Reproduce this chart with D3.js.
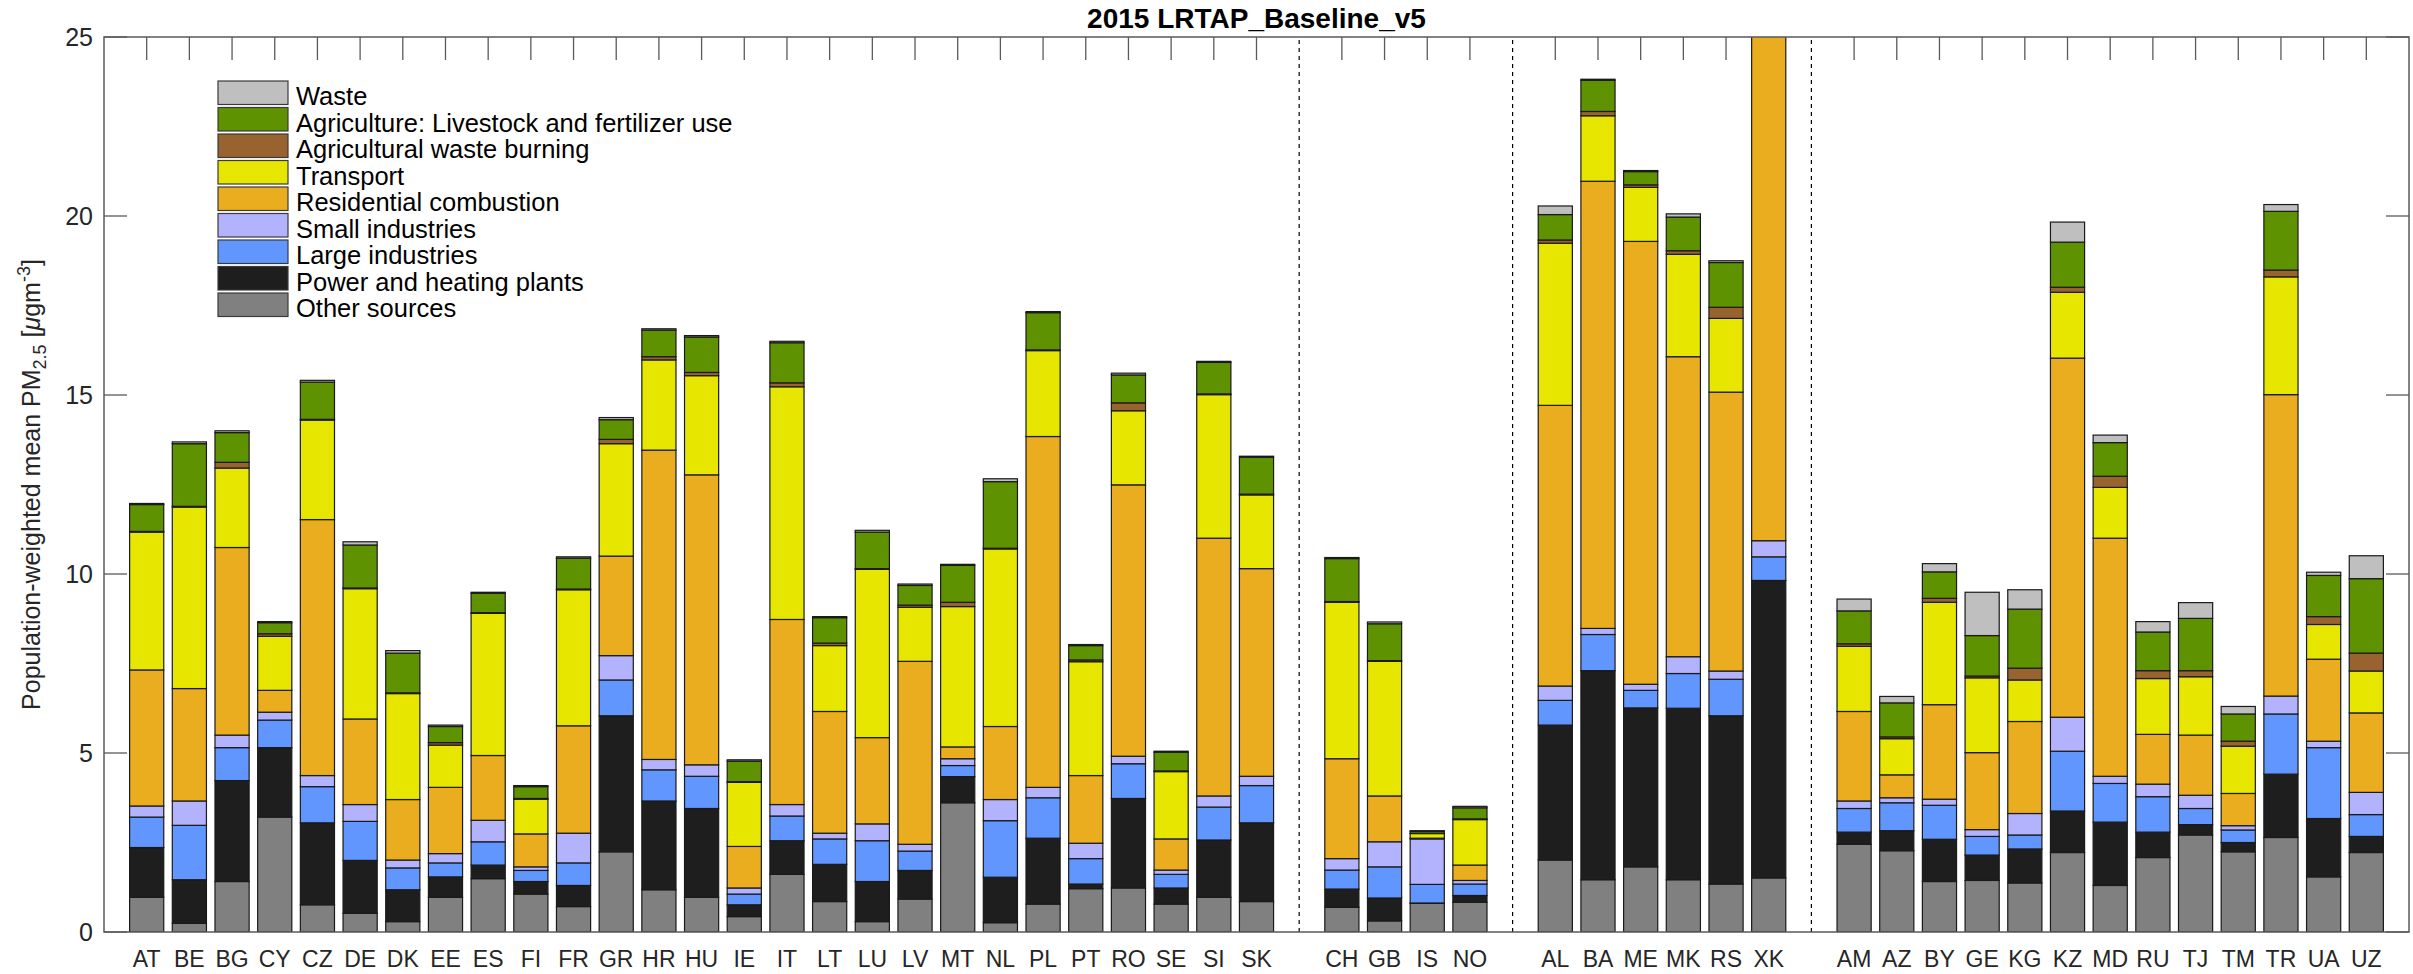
<!DOCTYPE html>
<html>
<head>
<meta charset="utf-8">
<script src="https://cdn.jsdelivr.net/npm/d3@7"></script>
<style>
    body { margin: 0; background: #ffffff; }
    svg { display: block; font-family: "Liberation Sans", Arial, Helvetica, sans-serif; }
</style>
</head>
<body>
<div id="chart"></div>
<script>
// Country groups, separated by dashed lines in the figure
const groupEU = ["AT", "BE", "BG", "CY", "CZ", "DE", "DK", "EE", "ES", "FI", "FR", "GR", "HR", "HU",
    "IE", "IT", "LT", "LU", "LV", "MT", "NL", "PL", "PT", "RO", "SE", "SI", "SK"];
const groupEFTA = ["CH", "GB", "IS", "NO"];
const groupBalkans = ["AL", "BA", "ME", "MK", "RS", "XK"];
const groupEast = ["AM", "AZ", "BY", "GE", "KG", "KZ", "MD", "RU", "TJ", "TM", "TR", "UA", "UZ"];
const groups = [groupEU, groupEFTA, groupBalkans, groupEast];

// Source contributions [ugm-3], one value per country in group order
const otherSources = [0.97, 0.24, 1.41, 3.21, 0.76, 0.52, 0.29, 0.97, 1.49, 1.06, 0.71, 2.24, 1.18, 0.97,
    0.43, 1.61, 0.85, 0.29, 0.92, 3.61, 0.26, 0.78, 1.21, 1.23, 0.78, 0.97, 0.85,
    0.69, 0.31, 0.80, 0.83,
    2.01, 1.46, 1.82, 1.46, 1.34, 1.51,
    2.45, 2.27, 1.41, 1.44, 1.37, 2.22, 1.30, 2.08, 2.71, 2.24, 2.64, 1.54, 2.22];
const powerPlants = [1.39, 1.22, 2.82, 1.94, 2.29, 1.48, 0.89, 0.57, 0.38, 0.35, 0.59, 3.80, 2.48, 2.48,
    0.33, 0.94, 1.04, 1.12, 0.80, 0.73, 1.27, 1.84, 0.13, 2.50, 0.45, 1.60, 2.20,
    0.51, 0.64, 0.01, 0.19,
    3.77, 5.84, 4.44, 4.79, 4.70, 8.31,
    0.34, 0.56, 1.18, 0.71, 0.95, 1.16, 1.77, 0.71, 0.29, 0.26, 1.77, 1.63, 0.45];
const largeIndustries = [0.85, 1.52, 0.92, 0.77, 1.01, 1.09, 0.61, 0.39, 0.65, 0.31, 0.63, 1.00, 0.87, 0.90,
    0.30, 0.69, 0.71, 1.14, 0.54, 0.31, 1.58, 1.13, 0.71, 0.97, 0.38, 0.92, 1.04,
    0.53, 0.87, 0.52, 0.32,
    0.69, 1.01, 0.49, 0.97, 1.02, 0.66,
    0.66, 0.78, 0.95, 0.52, 0.39, 1.67, 1.08, 0.99, 0.45, 0.35, 1.68, 1.98, 0.61];
const smallIndustries = [0.31, 0.68, 0.35, 0.22, 0.31, 0.47, 0.22, 0.26, 0.60, 0.10, 0.83, 0.68, 0.29, 0.32,
    0.17, 0.32, 0.16, 0.47, 0.19, 0.19, 0.59, 0.29, 0.43, 0.21, 0.12, 0.31, 0.26,
    0.32, 0.70, 1.27, 0.10,
    0.40, 0.17, 0.17, 0.47, 0.23, 0.45,
    0.21, 0.14, 0.17, 0.19, 0.60, 0.95, 0.20, 0.35, 0.37, 0.12, 0.50, 0.18, 0.62];
// XK residential runs past the axis limit of 25
const residential = [3.80, 3.14, 5.24, 0.61, 7.15, 2.39, 1.69, 1.85, 1.81, 0.92, 3.00, 2.78, 8.64, 8.10,
    1.16, 5.17, 3.40, 2.41, 5.11, 0.33, 2.04, 9.80, 1.89, 7.58, 0.87, 7.20, 5.80,
    2.79, 1.28, 0.02, 0.43,
    7.84, 12.49, 12.37, 8.38, 7.79, 15.50,
    2.50, 0.64, 2.64, 2.15, 2.57, 10.03, 6.65, 1.39, 1.68, 0.90, 8.42, 2.29, 2.22];
const transport = [3.85, 5.07, 2.22, 1.51, 2.78, 3.64, 2.96, 1.18, 3.97, 0.97, 3.80, 3.14, 2.52, 2.77,
    1.79, 6.50, 1.84, 4.70, 1.51, 3.92, 4.96, 2.40, 3.18, 2.07, 1.88, 4.01, 2.06,
    4.37, 3.76, 0.13, 1.27,
    4.53, 1.83, 1.51, 2.86, 2.06, 0,
    1.82, 1.01, 2.86, 2.09, 1.16, 1.84, 1.42, 1.56, 1.63, 1.32, 3.29, 0.97, 1.17];
const agWasteBurning = [0.02, 0.02, 0.16, 0.07, 0.02, 0.02, 0.02, 0.07, 0.02, 0.02, 0.02, 0.12, 0.09, 0.09,
    0.02, 0.11, 0.07, 0.02, 0.06, 0.12, 0.02, 0.02, 0.05, 0.22, 0.02, 0.02, 0.02,
    0.02, 0.02, 0.01, 0.02,
    0.09, 0.12, 0.07, 0.10, 0.31, 0,
    0.07, 0.05, 0.11, 0.05, 0.33, 0.14, 0.31, 0.22, 0.17, 0.14, 0.19, 0.22, 0.50];
const agriculture = [0.75, 1.75, 0.83, 0.31, 1.04, 1.20, 1.11, 0.45, 0.54, 0.33, 0.86, 0.55, 0.74, 0.99,
    0.57, 1.12, 0.71, 1.02, 0.55, 1.03, 1.86, 1.04, 0.40, 0.78, 0.52, 0.88, 1.03,
    1.20, 1.03, 0.05, 0.31,
    0.71, 0.87, 0.37, 0.94, 1.25, 0,
    0.92, 0.95, 0.74, 1.13, 1.65, 1.26, 0.94, 1.08, 1.46, 0.76, 1.64, 1.15, 2.08];
const waste = [0.03, 0.05, 0.05, 0.03, 0.05, 0.09, 0.07, 0.04, 0.03, 0.03, 0.04, 0.06, 0.04, 0.04,
    0.04, 0.04, 0.03, 0.05, 0.04, 0.03, 0.08, 0.03, 0.03, 0.05, 0.03, 0.03, 0.03,
    0.03, 0.05, 0.02, 0.04,
    0.24, 0.03, 0.03, 0.09, 0.05, 0,
    0.33, 0.18, 0.23, 1.21, 0.54, 0.56, 0.21, 0.29, 0.44, 0.21, 0.19, 0.09, 0.64];

// Stacking order bottom -> top
const sources = [
    { key: "other", label: "Other sources", color: "#808080", values: otherSources },
    { key: "power", label: "Power and heating plants", color: "#1e1e1e", values: powerPlants },
    { key: "large", label: "Large industries", color: "#6096fd", values: largeIndustries },
    { key: "small", label: "Small industries", color: "#b3b3fd", values: smallIndustries },
    { key: "res", label: "Residential combustion", color: "#e9ad1f", values: residential },
    { key: "trans", label: "Transport", color: "#e6e600", values: transport },
    { key: "agw", label: "Agricultural waste burning", color: "#996330", values: agWasteBurning },
    { key: "agr", label: "Agriculture: Livestock and fertilizer use", color: "#5f9200", values: agriculture },
    { key: "waste", label: "Waste", color: "#bfbfbf", values: waste },
];

const yTicks = [0, 5, 10, 15, 20, 25];

const width = 2413, height = 974;
const margin = { left: 104, right: 4, top: 37, bottom: 42 };

// Place countries on integer positions with an empty slot between groups
let countries = [];
let separators = [];
let pos = 1;
groups.forEach((g, gi) => {
    g.forEach(c => { countries.push({ name: c, pos: pos }); pos++; });
    if (gi < groups.length - 1) { separators.push(pos); pos++; }
});
const xMax = pos;

const table = countries.map((c, i) => {
    let row = { name: c.name, pos: c.pos };
    sources.forEach(s => row[s.key] = s.values[i]);
    return row;
});

const x = d3.scaleLinear().domain([0, xMax]).range([margin.left, width - margin.right]);
const y = d3.scaleLinear().domain([0, 25]).range([height - margin.bottom, margin.top]);
const barW = x(0.8) - x(0);
const tickLen = 23;
const axisColor = "#5a5a5a";
const textColor = "#262626";

const svg = d3.select("#chart").append("svg")
    .attr("width", width)
    .attr("height", height);

svg.append("defs").append("clipPath").attr("id", "plot-clip")
    .append("rect")
    .attr("x", x(0)).attr("y", y(25))
    .attr("width", x(xMax) - x(0)).attr("height", y(0) - y(25));

// Ticks (drawn under the bars)
const ticks = svg.append("g").attr("stroke", axisColor).attr("stroke-width", 1.3);
countries.forEach(c => {
    ticks.append("line")
        .attr("x1", x(c.pos)).attr("x2", x(c.pos))
        .attr("y1", y(25)).attr("y2", y(25) + tickLen);
    ticks.append("line")
        .attr("x1", x(c.pos)).attr("x2", x(c.pos))
        .attr("y1", y(0)).attr("y2", y(0) - tickLen);
});
yTicks.forEach(t => {
    ticks.append("line")
        .attr("x1", x(0)).attr("x2", x(0) + tickLen)
        .attr("y1", y(t)).attr("y2", y(t));
    ticks.append("line")
        .attr("x1", x(xMax)).attr("x2", x(xMax) - tickLen)
        .attr("y1", y(t)).attr("y2", y(t));
});

// Group separators
svg.append("g").selectAll("line")
    .data(separators)
    .join("line")
        .attr("x1", d => x(d)).attr("x2", d => x(d))
        .attr("y1", y(0)).attr("y2", y(25))
        .attr("stroke", "#000")
        .attr("stroke-width", 1.2)
        .attr("stroke-dasharray", "4,4");

// Stacked bars
const stacked = d3.stack().keys(sources.map(s => s.key))(table);

svg.append("g")
    .attr("clip-path", "url(#plot-clip)")
    .selectAll("g")
    .data(stacked)
    .join("g")
        .attr("fill", (d, i) => sources[i].color)
    .selectAll("rect")
    .data(d => d)
    .join("rect")
        .attr("x", d => x(d.data.pos) - barW / 2)
        .attr("y", d => y(d[1]))
        .attr("width", barW)
        .attr("height", d => y(d[0]) - y(d[1]))
        .attr("stroke", "#1a1a1a")
        .attr("stroke-width", 1.2);

// Axes box
svg.append("rect")
    .attr("x", x(0)).attr("y", y(25))
    .attr("width", x(xMax) - x(0)).attr("height", y(0) - y(25))
    .attr("fill", "none")
    .attr("stroke", axisColor)
    .attr("stroke-width", 1.5);

// Tick labels
svg.append("g").selectAll("text")
    .data(yTicks)
    .join("text")
        .attr("x", x(0) - 11)
        .attr("y", d => y(d) + 9)
        .attr("text-anchor", "end")
        .attr("font-size", 25)
        .attr("fill", textColor)
        .text(d => d);

svg.append("g").selectAll("text")
    .data(countries)
    .join("text")
        .attr("x", d => x(d.pos))
        .attr("y", 967)
        .attr("text-anchor", "middle")
        .attr("font-size", 23)
        .attr("fill", textColor)
        .text(d => d.name);

// Title
svg.append("text")
    .attr("x", (x(0) + x(xMax)) / 2)
    .attr("y", 28)
    .attr("text-anchor", "middle")
    .attr("font-size", 28)
    .attr("font-weight", "bold")
    .attr("fill", "#000")
    .text("2015 LRTAP_Baseline_v5");

// Y label with sub/superscripts
const ylab = svg.append("text")
    .attr("transform", `translate(40, ${(y(0) + y(25)) / 2}) rotate(-90)`)
    .attr("text-anchor", "middle")
    .attr("font-size", 25)
    .attr("fill", textColor);
ylab.append("tspan").text("Population-weighted mean PM");
ylab.append("tspan").attr("font-size", 18).attr("dy", 6).text("2.5");
ylab.append("tspan").attr("dy", -6).text(" [");
ylab.append("tspan").attr("font-style", "italic").text("\u03bc");
ylab.append("tspan").text("gm");
ylab.append("tspan").attr("font-size", 18).attr("dy", -10).text("-3");
ylab.append("tspan").attr("dy", 10).text("]");

// Legend, top entry is the last stacked source
const legendItems = sources.slice().reverse();
const legend = svg.append("g").attr("transform", "translate(218, 81)");
const rowH = 26.5;
legendItems.forEach((s, i) => {
    legend.append("rect")
        .attr("x", 0).attr("y", i * rowH)
        .attr("width", 70).attr("height", 23.5)
        .attr("fill", s.color)
        .attr("stroke", "#3a3a3a")
        .attr("stroke-width", 1.2);
    legend.append("text")
        .attr("x", 78)
        .attr("y", i * rowH + 24)
        .attr("font-size", 25.5)
        .attr("fill", "#000")
        .text(s.label);
});
</script>
</body>
</html>
